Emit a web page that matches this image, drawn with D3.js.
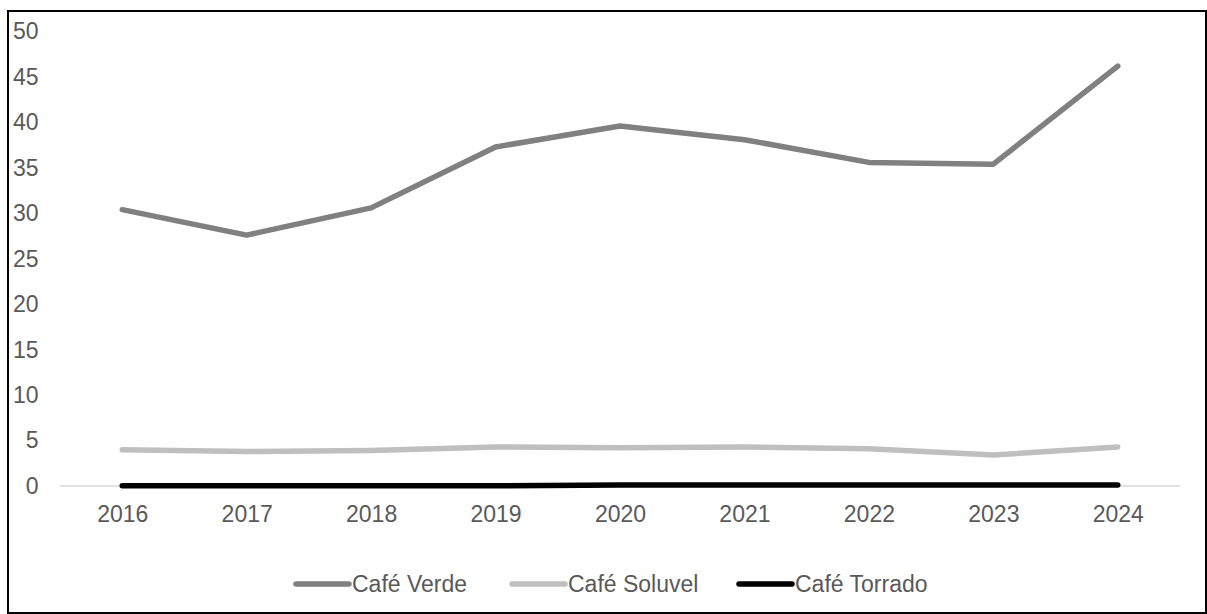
<!DOCTYPE html>
<html>
<head>
<meta charset="utf-8">
<script src="https://cdn.jsdelivr.net/npm/d3@7"></script>
<style>
  body { margin: 0; background: #fff; }
  text { font-family: "Liberation Sans", Arial, sans-serif; }
</style>
</head>
<body>
<svg width="1207" height="614"></svg>
<script>
const years = ['2016', '2017', '2018', '2019', '2020', '2021', '2022', '2023', '2024'];
const cafeVerde = [30.4, 27.6, 30.6, 37.3, 39.6, 38.1, 35.6, 35.4, 46.2];
const cafeSoluvel = [4.0, 3.8, 3.9, 4.3, 4.2, 4.3, 4.1, 3.4, 4.3];
const cafeTorrado = [0.02, 0.02, 0.02, 0.03, 0.12, 0.12, 0.12, 0.12, 0.12];
const yTicks = [0, 5, 10, 15, 20, 25, 30, 35, 40, 45, 50];

const svg = d3.select('svg');
const width = +svg.attr('width');
const height = +svg.attr('height');

const series = [
    { name: 'Café Verde', values: cafeVerde, color: '#808080' },
    { name: 'Café Soluvel', values: cafeSoluvel, color: '#bfbfbf' },
    { name: 'Café Torrado', values: cafeTorrado, color: '#000000' }
];

// chart frame (right and bottom edges sit on the picture edge)
svg.append('rect')
    .attr('x', 8).attr('y', 11)
    .attr('width', width - 9).attr('height', height - 12)
    .attr('fill', 'none')
    .attr('stroke', '#000')
    .attr('stroke-width', 2);

const plot = { left: 60, right: 1180, top: 31.5, bottom: 486 };

const xScale = d3.scalePoint()
    .domain(years)
    .range([plot.left, plot.right])
    .padding(0.5);

const yScale = d3.scaleLinear()
    .domain([0, 50])
    .range([plot.bottom, plot.top]);

const yAxisG = svg.append('g')
    .attr('transform', `translate(${plot.left},0)`)
    .call(d3.axisLeft(yScale).tickValues(yTicks).tickSize(0).tickPadding(21.5));
yAxisG.select('.domain').remove();
yAxisG.selectAll('text')
    .attr('fill', '#595959')
    .style('font-size', '23px')
    .style('font-family', '"Liberation Sans", Arial, sans-serif');

const xAxisG = svg.append('g')
    .attr('transform', `translate(0,${plot.bottom})`)
    .call(d3.axisBottom(xScale).tickSize(0));
xAxisG.select('.domain').remove();
xAxisG.selectAll('text')
    .attr('y', 28)
    .attr('dy', '0.35em')
    .attr('fill', '#595959')
    .style('font-size', '23px')
    .style('font-family', '"Liberation Sans", Arial, sans-serif');

svg.append('line')
    .attr('x1', plot.left).attr('x2', plot.right)
    .attr('y1', yScale(0)).attr('y2', yScale(0))
    .attr('stroke', '#d9d9d9')
    .attr('stroke-width', 1.5);

const lineGenerator = d3.line()
    .x((d, i) => xScale(years[i]))
    .y(d => yScale(d));

series.slice().reverse().forEach(s => {
    svg.append('path')
        .attr('d', lineGenerator(s.values))
        .attr('fill', 'none')
        .attr('stroke', s.color)
        .attr('stroke-width', 5.5)
        .attr('stroke-linecap', 'round')
        .attr('stroke-linejoin', 'round');
});

// legend
const legendY = 584;
const legendX = [296, 512, 739];
const legend = svg.append('g');
series.forEach((s, i) => {
    const g = legend.append('g').attr('transform', `translate(${legendX[i]},${legendY})`);
    g.append('line')
        .attr('x1', 0).attr('x2', 53)
        .attr('stroke', s.color)
        .attr('stroke-width', 5.5)
        .attr('stroke-linecap', 'round');
    g.append('text')
        .attr('x', 56)
        .attr('dy', '0.35em')
        .attr('fill', '#595959')
        .style('font-size', '23px')
        .text(s.name);
});
</script>
</body>
</html>
